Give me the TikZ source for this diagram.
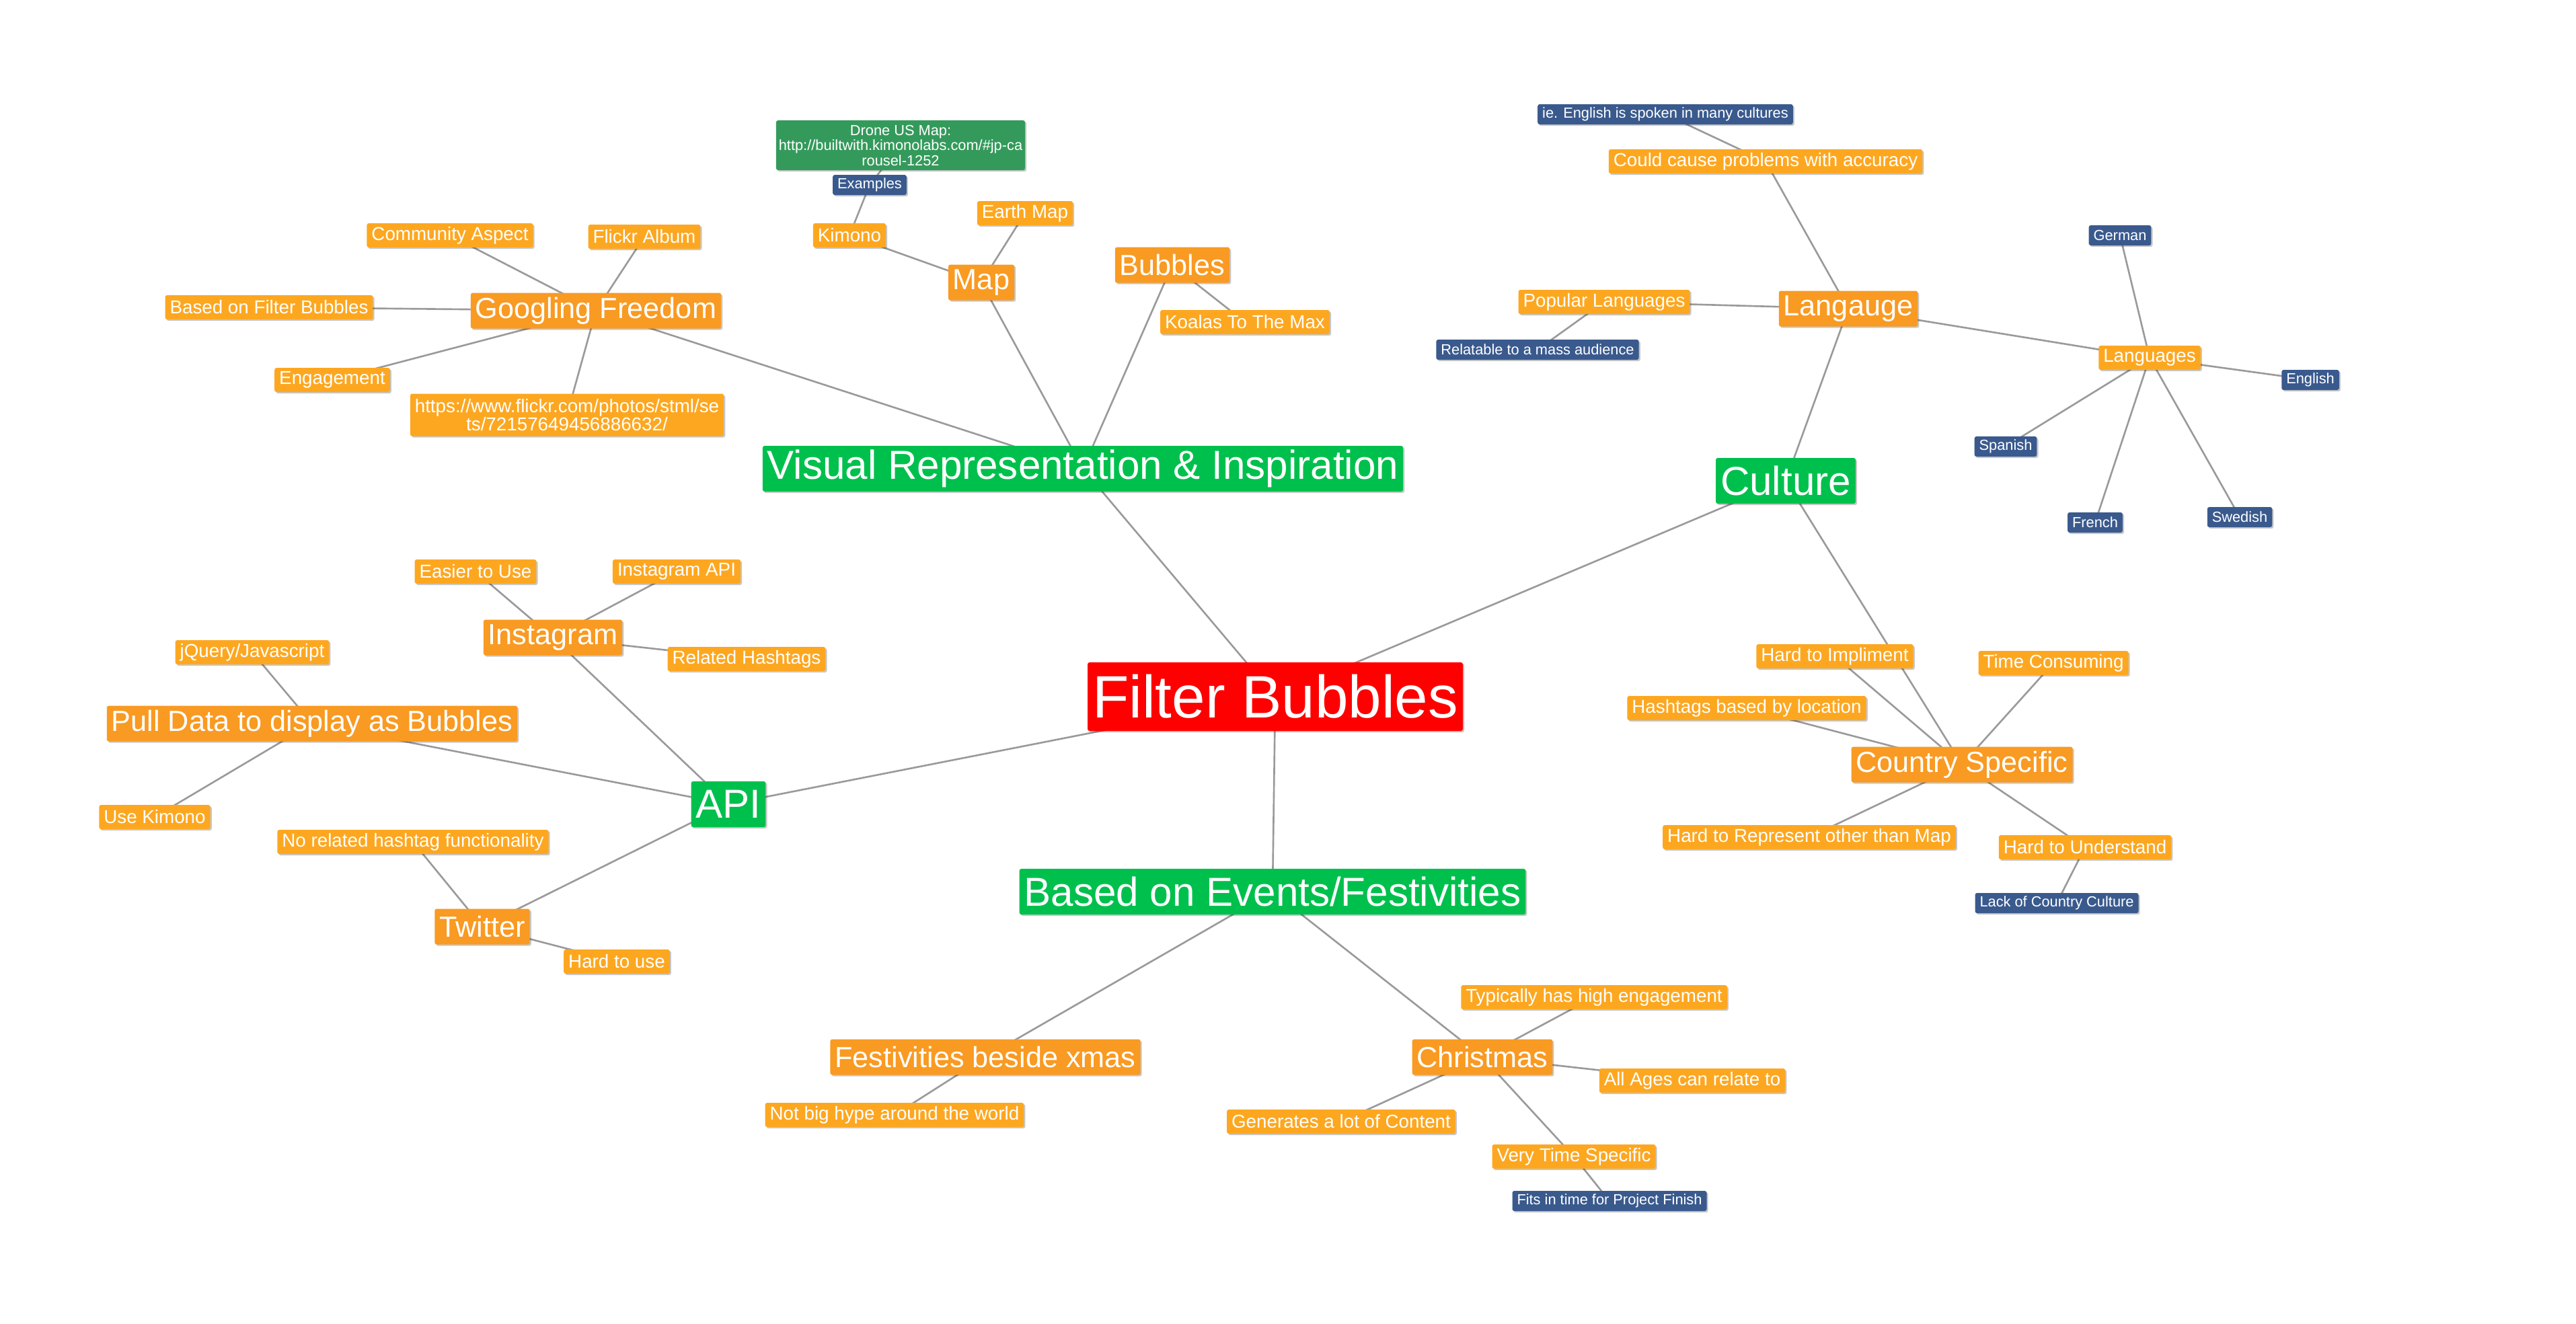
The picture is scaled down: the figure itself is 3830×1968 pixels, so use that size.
\documentclass[tikz,border=0pt]{standalone}
\usepackage{fontspec}
\setmainfont{Liberation Sans}
\usetikzlibrary{shadows}
\pgfdeclarelayer{background}
\pgfsetlayers{background,main}
\definecolor{rootred}{HTML}{FF0000}
\definecolor{lvgreen}{HTML}{00C04D}
\definecolor{darkor}{HTML}{F99A22}
\definecolor{lightor}{HTML}{FDA720}
\definecolor{navy}{HTML}{3A5A8E}
\definecolor{dronegreen}{HTML}{349A5B}
\definecolor{edgegray}{HTML}{9A9A9A}
\begin{document}
\begin{tikzpicture}[x=0.01cm,y=-0.01cm,
  box/.style={rectangle, rounded corners=0.03cm, text=white, inner xsep=0.07cm, inner ysep=0pt,
    drop shadow={shadow xshift=0.6pt, shadow yshift=-0.6pt, opacity=0.22, fill=black}},
  rootbox/.style={box, fill=rootred, minimum height=1.02cm, font=\fontsize{25.3}{26}\selectfont},
  greenbox/.style={box, fill=lvgreen, minimum height=0.68cm, font=\fontsize{17.1}{18}\selectfont},
  midbox/.style={box, fill=darkor, minimum height=0.53cm, font=\fontsize{12.3}{13}\selectfont},
  leafbox/.style={box, fill=lightor, minimum height=0.36cm, font=\fontsize{7.9}{7.9}\selectfont},
  bluebox/.style={box, fill=navy, minimum height=0.30cm, font=\fontsize{6.2}{6.4}\selectfont},
  dronebox/.style={box, fill=dronegreen, minimum height=0.74cm, minimum width=3.70cm, inner xsep=0.02cm, font=\fontsize{6.2}{6.4}\selectfont},
  link/.style={draw=edgegray, line width=0.75pt}
]
\useasboundingbox (0,0) rectangle (3830,1968);

% root
\node[rootbox] (fb) at (1896,1036) {Filter Bubbles};
% level 1
\node[greenbox] (vis) at (1610,697) {Visual Representation \& Inspiration};
\node[greenbox] (cult) at (2655,715) {Culture};
\node[greenbox] (api) at (1083,1196) {API};
\node[greenbox] (events) at (1892,1326) {Based on Events/Festivities};
% level 2
\node[midbox] (gf) at (886,462) {Googling Freedom};
\node[midbox] (map) at (1459,420) {Map};
\node[midbox] (bub) at (1743,394) {Bubbles};
\node[midbox] (lang) at (2748,459) {Langauge};
\node[midbox] (cs) at (2917,1137) {Country Specific};
\node[midbox] (insta) at (822,948) {Instagram};
\node[midbox] (pull) at (464,1076) {Pull Data to display as Bubbles};
\node[midbox] (tw) at (717,1378) {Twitter};
\node[midbox] (fest) at (1465,1572) {Festivities beside xmas};
\node[midbox] (xmas) at (2204,1572) {Christmas};
% leaves
\node[leafbox] (ca) at (669,350) {Community Aspect};
\node[leafbox] (fa) at (958,352) {Flickr Album};
\node[leafbox] (bofb) at (400,457) {Based on Filter Bubbles};
\node[leafbox] (eng) at (494,565) {Engagement};
\node[leafbox, minimum height=0.63cm, align=center] (url) at (843,617) {https://www.flickr.com/photos/stml/se\\ts/72157649456886632/};
\node[leafbox] (kim) at (1263,350) {Kimono};
\node[leafbox] (earth) at (1524,317) {Earth Map};
\node[leafbox] (koala) at (1851,479) {Koalas To The Max};
\node[leafbox] (could) at (2625,240) {Could cause problems with accuracy};
\node[leafbox] (pop) at (2385,449) {Popular Languages};
\node[leafbox] (langs) at (3196,532) {Languages};
\node[leafbox] (hti) at (2728,976) {Hard to Impliment};
\node[leafbox] (tc) at (3053,986) {Time Consuming};
\node[leafbox] (hbl) at (2597,1053) {Hashtags based by location};
\node[leafbox] (htr) at (2690,1245) {Hard to Represent other than Map};
\node[leafbox] (htu) at (3100,1260) {Hard to Understand};
\node[leafbox] (etu) at (707,850) {Easier to Use};
\node[leafbox] (iapi) at (1006,850) {Instagram API};
\node[leafbox] (rh) at (1110,980) {Related Hashtags};
\node[leafbox] (jq) at (375,970) {jQuery/Javascript};
\node[leafbox] (uk) at (230,1215) {Use Kimono};
\node[leafbox] (norel) at (614,1252) {No related hashtag functionality};
\node[leafbox] (htuse) at (917,1430) {Hard to use};
\node[leafbox] (nbh) at (1330,1658) {Not big hype around the world};
\node[leafbox] (the) at (2370,1483) {Typically has high engagement};
\node[leafbox] (aa) at (2516,1607) {All Ages can relate to};
\node[leafbox] (gen) at (1994,1668) {Generates a lot of Content};
\node[leafbox] (vts) at (2340,1720) {Very Time Specific};
% blue notes
\node[bluebox] (ex) at (1293,275) {Examples};
\node[bluebox] (ie) at (2476,170) {ie. English is spoken in many cultures};
\node[bluebox] (rel) at (2286,520) {Relatable to a mass audience};
\node[bluebox] (ger) at (3152,350) {German};
\node[bluebox] (en) at (3435,565) {English};
\node[bluebox] (sp) at (2982,664) {Spanish};
\node[bluebox] (fr) at (3115,777) {French};
\node[bluebox] (sw) at (3330,769) {Swedish};
\node[bluebox] (lcc) at (3058,1343) {Lack of Country Culture};
\node[bluebox] (fit) at (2393,1786) {Fits in time for Project Finish};
% drone
\node[dronebox, align=center] (drone) at (1339,216) {Drone US Map:\\http://builtwith.kimonolabs.com/\#jp-ca\\rousel-1252};

\begin{pgfonlayer}{background}
\path[link] (fb.center) -- (vis.center);
\path[link] (fb.center) -- (cult.center);
\path[link] (fb.center) -- (api.center);
\path[link] (fb.center) -- (events.center);
\path[link] (vis.center) -- (gf.center);
\path[link] (vis.center) -- (map.center);
\path[link] (vis.center) -- (bub.center);
\path[link] (gf.center) -- (ca.center);
\path[link] (gf.center) -- (fa.center);
\path[link] (gf.center) -- (bofb.center);
\path[link] (gf.center) -- (eng.center);
\path[link] (gf.center) -- (url.center);
\path[link] (map.center) -- (kim.center);
\path[link] (map.center) -- (earth.center);
\path[link] (kim.center) -- (ex.center);
\path[link] (ex.center) -- (drone.center);
\path[link] (bub.center) -- (koala.center);
\path[link] (cult.center) -- (lang.center);
\path[link] (cult.center) -- (cs.center);
\path[link] (lang.center) -- (could.center);
\path[link] (could.center) -- (ie.center);
\path[link] (lang.center) -- (pop.center);
\path[link] (pop.center) -- (rel.center);
\path[link] (lang.center) -- (langs.center);
\path[link] (langs.center) -- (ger.center);
\path[link] (langs.center) -- (en.center);
\path[link] (langs.center) -- (sp.center);
\path[link] (langs.center) -- (fr.center);
\path[link] (langs.center) -- (sw.center);
\path[link] (cs.center) -- (hti.center);
\path[link] (cs.center) -- (tc.center);
\path[link] (cs.center) -- (hbl.center);
\path[link] (cs.center) -- (htr.center);
\path[link] (cs.center) -- (htu.center);
\path[link] (htu.center) -- (lcc.center);
\path[link] (api.center) -- (insta.center);
\path[link] (api.center) -- (pull.center);
\path[link] (api.center) -- (tw.center);
\path[link] (insta.center) -- (etu.center);
\path[link] (insta.center) -- (iapi.center);
\path[link] (insta.center) -- (rh.center);
\path[link] (pull.center) -- (jq.center);
\path[link] (pull.center) -- (uk.center);
\path[link] (tw.center) -- (norel.center);
\path[link] (tw.center) -- (htuse.center);
\path[link] (events.center) -- (fest.center);
\path[link] (events.center) -- (xmas.center);
\path[link] (fest.center) -- (nbh.center);
\path[link] (xmas.center) -- (the.center);
\path[link] (xmas.center) -- (aa.center);
\path[link] (xmas.center) -- (gen.center);
\path[link] (xmas.center) -- (vts.center);
\path[link] (vts.center) -- (fit.center);
\end{pgfonlayer}
\end{tikzpicture}
\end{document}
